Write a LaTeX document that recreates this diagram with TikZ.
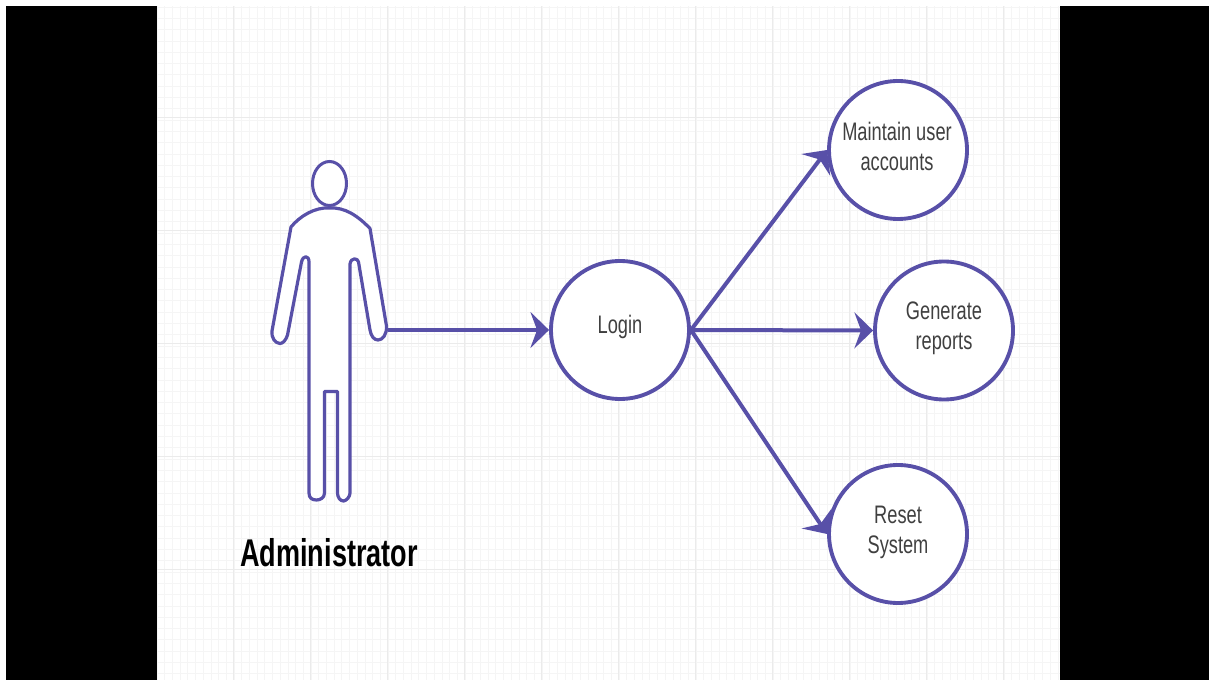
\documentclass[tikz,border=0pt]{standalone}
\usepackage{fontspec}
\usetikzlibrary{arrows.meta}
\newfontfamily\usecasefont[FakeStretch=0.72]{Liberation Sans}
\newfontfamily\actorfont[FakeStretch=0.70]{Liberation Sans}
\definecolor{umlblue}{RGB}{88,80,168}
\definecolor{umltext}{RGB}{64,64,64}
\tikzset{every picture/.style={line width=0.75pt}}
\tikzset{
	usecase/.style={circle,draw=umlblue,fill=white,line width=2.9pt,minimum size=103.5pt,inner sep=0pt},
	usecasetext/.style={inner sep=0.75pt,align=center,text=umltext,font={\usecasefont\fontsize{19pt}{22.5pt}\selectfont}},
	actortext/.style={inner sep=0.75pt,font={\actorfont\bfseries\fontsize{29pt}{34pt}\selectfont}},
	flow/.style={draw=umlblue,line width=3pt,-{Stealth[length=14pt,width=27pt,inset=5pt]}},
	gridminor/.style={draw=black!4,line width=0.5pt},
	gridmajor/.style={draw=black!8,line width=0.6pt}
}

\begin{document}
\begin{tikzpicture}[x=0.75pt,y=0.75pt,yscale=-1,xscale=1]
	\useasboundingbox (0,0) rectangle (1209,680);
	
	%Shape: Rectangle [page]
	\fill [black] (6,6) rectangle (1209,680);
	\fill [white] (157,6) rectangle (1060,680);
	
	%Grid
	\foreach \gx in {0,...,117} {\draw [gridminor] (157+\gx*7.7,6) -- (157+\gx*7.7,680);}
	\foreach \gy in {0,...,59} {\draw [gridminor] (157,7+\gy*11.3) -- (1060,7+\gy*11.3);}
	\foreach \gx in {0,...,10} {\draw [gridmajor] (233+\gx*77,6) -- (233+\gx*77,680);}
	\foreach \gy in {0,...,4} {\draw [gridmajor] (157,117+\gy*113) -- (1060,117+\gy*113);}
	
	%Shape: Circle [use cases]
	\node (login) [usecase] at (620,330) {};
	\node (accounts) [usecase] at (898,150) {};
	\node (reports) [usecase] at (944,330.5) {};
	\node (reset) [usecase] at (898,534) {};
	
	%Shape: Actor [head]
	\draw [draw=umlblue,fill=white,line width=2.25] (329.5,183.5) ellipse (17 and 22);
	%Shape: Actor [body]
	\draw [draw=umlblue,fill=white,line width=2.4,line join=round]
		(329.5,208) .. controls (345,207) and (358,216) .. (370,228.5)
		-- (386.5,326) .. controls (387,334) and (383,340) .. (378,340)
		.. controls (374,340) and (371,336) .. (370,330)
		-- (358.5,262) .. controls (358,258) and (351,257) .. (350,264)
		-- (350,493) .. controls (350,497) and (346,501) .. (343.5,501)
		.. controls (340,501) and (337.5,497) .. (337.5,493)
		-- (337.5,391.5) -- (324.5,391.5) -- (324.5,493)
		.. controls (324.5,498) and (320,500) .. (316.5,500)
		.. controls (312,500) and (309,498) .. (309,493)
		-- (309,262) .. controls (309,255) and (303,255) .. (301.5,262)
		-- (287.5,335) .. controls (286,340) and (283,343.5) .. (280,343.5)
		.. controls (275,343.5) and (271,337) .. (272,331)
		-- (291,227) .. controls (300,216) and (315,207) .. (329.5,208) -- cycle;
	\coordinate (hand) at (388,330);
	
	%Straight Lines [flows]
	\draw [flow] (hand) -- (login.west);
	\draw [flow] (login.east) -- (accounts.west);
	\draw [flow] (login.east) -- (reports.west);
	\draw [flow] (login.east) -- (reset.west);
	
	% Text Node
	\node (logintext) [usecasetext] at (620,327) {Login};
	% Text Node
	\node (accountstext) [usecasetext] at (897,146) {Maintain user\\accounts};
	% Text Node
	\node (reportstext) [usecasetext] at (944,328) {Generate\\reports};
	% Text Node
	\node (resettext) [usecasetext] at (898,532) {Reset\\System};
	% Text Node
	\node (admintext) [actortext] at (329,553) {Administrator};
	
\end{tikzpicture}
\end{document}
